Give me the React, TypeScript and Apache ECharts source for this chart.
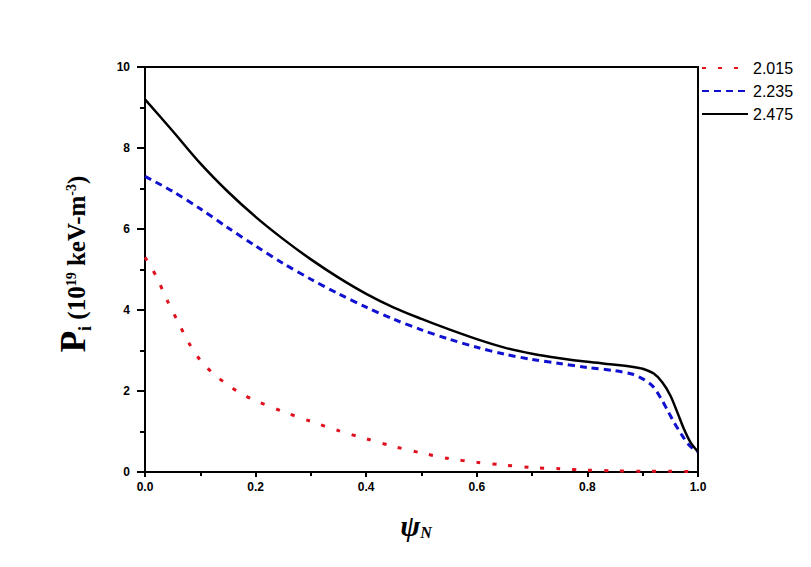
import React, { useEffect, useRef } from "react";
import * as echarts from "echarts";

const seriesNames = ["2.015", "2.235", "2.475"];

const redX = [0, 0.02, 0.04, 0.06, 0.08, 0.1, 0.125, 0.15, 0.175, 0.2, 0.25, 0.3, 0.35, 0.4, 0.45, 0.5, 0.55, 0.6, 0.65, 0.7, 0.75, 0.8, 0.85, 0.9, 0.95, 0.985];
const redY = [5.3, 4.84, 4.24, 3.7, 3.17, 2.76, 2.41, 2.15, 1.93, 1.76, 1.49, 1.25, 1.02, 0.82, 0.63, 0.47, 0.33, 0.24, 0.17, 0.11, 0.08, 0.045, 0.03, 0.02, 0.02, 0.01];

const blueX = [0, 0.05, 0.1, 0.15, 0.2, 0.25, 0.3, 0.35, 0.4, 0.45, 0.5, 0.55, 0.6, 0.65, 0.7, 0.75, 0.8, 0.85, 0.88, 0.9, 0.918, 0.933, 0.945, 0.957, 0.97, 0.985, 1.0];
const blueY = [7.3, 6.93, 6.5, 6.03, 5.58, 5.15, 4.76, 4.4, 4.07, 3.77, 3.51, 3.28, 3.08, 2.91, 2.78, 2.68, 2.58, 2.5, 2.42, 2.3, 2.12, 1.82, 1.52, 1.22, 0.93, 0.65, 0.5];

const blackX = [0, 0.05, 0.1, 0.15, 0.2, 0.25, 0.3, 0.35, 0.4, 0.45, 0.5, 0.55, 0.6, 0.65, 0.7, 0.75, 0.8, 0.85, 0.88, 0.9, 0.92, 0.935, 0.95, 0.963, 0.975, 0.987, 1.0];
const blackY = [9.2, 8.42, 7.62, 6.92, 6.3, 5.75, 5.25, 4.8, 4.4, 4.06, 3.78, 3.52, 3.28, 3.07, 2.92, 2.81, 2.72, 2.65, 2.6, 2.55, 2.43, 2.22, 1.89, 1.46, 1.05, 0.72, 0.5];

const pair = (xs: number[], ys: number[]) => xs.map((x, i) => [x, ys[i]]);

const serif = "Liberation Serif, Times New Roman, serif";

export default function App() {
  const ref = useRef<HTMLDivElement>(null);
  useEffect(() => {
    document.body.style.margin = "0";
    const chart = echarts.init(ref.current!, null, { renderer: "svg" });
    const tickFont = { fontFamily: "Liberation Sans, Arial", fontWeight: "bold" as const, fontSize: 12, color: "#000" };
    chart.setOption({
      animation: false,
      backgroundColor: "#fff",
      grid: { left: 145, top: 67, width: 553, height: 405, show: true, borderColor: "#000", borderWidth: 2, backgroundColor: "transparent" },
      legend: {
        orient: "vertical",
        left: 696,
        top: 55,
        itemWidth: 46,
        itemHeight: 14,
        itemGap: 7,
        itemStyle: { opacity: 0 },
        textStyle: { fontFamily: "Liberation Sans, Arial", fontSize: 16, color: "#000" },
        data: seriesNames,
      },
      xAxis: {
        type: "value",
        min: 0,
        max: 1,
        interval: 0.2,
        axisLine: { lineStyle: { color: "#000", width: 2 } },
        axisTick: { length: 5, lineStyle: { color: "#000", width: 2 } },
        minorTick: { show: true, splitNumber: 2, length: 4, lineStyle: { color: "#000", width: 2 } },
        splitLine: { show: false },
        axisLabel: { ...tickFont, margin: 9, formatter: (v: number) => v.toFixed(1) },
      },
      yAxis: {
        type: "value",
        min: 0,
        max: 10,
        interval: 2,
        axisLine: { lineStyle: { color: "#000", width: 2 } },
        axisTick: { length: 8, lineStyle: { color: "#000", width: 2 } },
        minorTick: { show: true, splitNumber: 2, length: 5, lineStyle: { color: "#000", width: 2 } },
        splitLine: { show: false },
        axisLabel: { ...tickFont, margin: 15 },
      },
      series: [
        {
          name: seriesNames[0],
          type: "line",
          data: pair(redX, redY),
          showSymbol: false,
          symbol: "circle",
          smooth: 0.3,
          color: "#e0101e",
          lineStyle: { color: "#e0101e", width: 3, type: [4, 12] },
        },
        {
          name: seriesNames[1],
          type: "line",
          data: pair(blueX, blueY),
          showSymbol: false,
          symbol: "circle",
          smooth: 0.3,
          color: "#1010d0",
          lineStyle: { color: "#1010d0", width: 3, type: [7, 5] },
        },
        {
          name: seriesNames[2],
          type: "line",
          data: pair(blackX, blackY),
          showSymbol: false,
          symbol: "circle",
          smooth: 0.3,
          color: "#000",
          lineStyle: { color: "#000", width: 2.5, type: "solid" },
        },
      ],
      graphic: [
        {
          type: "text",
          x: 75,
          y: 264,
          rotation: Math.PI / 2,
          style: {
            text: "{p|P}{sub|i}{b| (10}{sup|19}{b| keV-m}{sup|-3}{b|)}",
            align: "center",
            verticalAlign: "middle",
            fill: "#000",
            rich: {
              p: { fontFamily: serif, fontWeight: "bold", fontSize: 35, padding: [0, 0, 3.4, 0], verticalAlign: "bottom", fill: "#000" },
              sub: { fontFamily: serif, fontWeight: "bold", fontSize: 18, padding: [0, 0, 0, 0], verticalAlign: "bottom", fill: "#000" },
              b: { fontFamily: serif, fontWeight: "bold", fontSize: 25, padding: [0, 0, 4.8, 0], verticalAlign: "bottom", fill: "#000" },
              sup: { fontFamily: serif, fontWeight: "bold", fontSize: 14, padding: [0, 0, 15.5, 0], verticalAlign: "bottom", fill: "#000" },
            },
          },
        },
        {
          type: "text",
          x: 416,
          y: 525,
          style: {
            text: "{psi|ψ}{n|N}",
            align: "center",
            verticalAlign: "middle",
            fill: "#000",
            rich: {
              psi: { fontFamily: serif, fontStyle: "italic", fontWeight: "bold", fontSize: 30, lineHeight: 30, verticalAlign: "bottom", fill: "#000" },
              n: { fontFamily: serif, fontStyle: "italic", fontWeight: "bold", fontSize: 16, lineHeight: 16, verticalAlign: "bottom", fill: "#000" },
            },
          },
        },
      ],
    });
    return () => chart.dispose();
  }, []);
  return <div ref={ref} style={{ width: 811, height: 567 }} />;
}
